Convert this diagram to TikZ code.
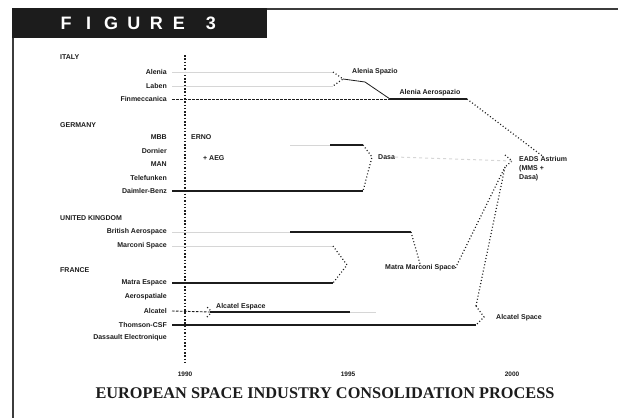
\documentclass[tikz,border=0pt]{standalone}
\usepackage{fontspec}
\setmainfont{Liberation Serif}
\newfontfamily\hdrfont{Liberation Sans}
\usetikzlibrary{positioning}
\definecolor{mydark}{RGB}{28,28,28}
\definecolor{myrule}{RGB}{60,60,60}
\definecolor{myfaint}{RGB}{214,214,214}
\tikzset{
  figletter/.style={font=\hdrfont\fontsize{18}{18}\selectfont\bfseries, text=white, inner sep=0pt},
  country/.style={anchor=west, font=\hdrfont\fontsize{7}{8}\selectfont\bfseries, text=mydark, inner sep=0pt},
  firm/.style={anchor=east, font=\hdrfont\fontsize{7}{8}\selectfont\bfseries, text=mydark, inner sep=0pt},
  note/.style={anchor=west, font=\hdrfont\fontsize{7}{9}\selectfont\bfseries, text=mydark, inner sep=0pt, align=left},
  year/.style={font=\hdrfont\fontsize{6.5}{7}\selectfont\bfseries, text=mydark, inner sep=0pt},
  caption/.style={font=\fontsize{16.3}{17}\selectfont\bfseries, text=mydark, inner sep=0pt},
  axis/.style={line width=1.1pt, color=mydark, dash pattern=on 1.5pt off 1.8pt},
  track/.style={line width=1.7pt, color=mydark},
  faint/.style={line width=1pt, color=myfaint},
  lead/.style={line width=0.9pt, color=mydark, dash pattern=on 2.5pt off 1.5pt},
  merge/.style={line width=1.2pt, color=mydark, dash pattern=on 1pt off 2.2pt},
  thin/.style={line width=0.8pt, color=mydark}
}

\begin{document}
\begin{tikzpicture}[x=1pt, y=-1pt]
  \useasboundingbox (0,0) rectangle (618,418);

  % frame and figure tab
  \fill[mydark] (12,8) rectangle (267,38);
  \foreach \ch [count=\i] in {F,I,G,U,R,E}
    \node[figletter] (fig\i) at (66+22.6*\i-22.6, 23.5) {\ch};
  \node[figletter] (fignum) at (211, 23.5) {3};
  \draw[myrule, line width=2pt] (267,8.5) -- (618,8.5);
  \draw[myrule, line width=2pt] (13,38) -- (13,418);

  % time axis
  \coordinate (axtop) at (185,55);
  \coordinate (axbot) at (185,365);
  \draw[axis] (axtop) -- (axbot);
  \node[year] (y90) at (185,374) {1990};
  \node[year] (y95) at (348,374) {1995};
  \node[year] (y00) at (512,374) {2000};

  % merged groups on the right
  \node[note] (astrium) at (519,169) {EADS Astrium\\(MMS +\\Dasa)};
  \coordinate (astrTop) at (505,155);
  \coordinate (astrTip) at (512,161);
  \coordinate (astrBot) at (505,167);
  \draw[merge] (astrTop) -- (astrTip) -- (astrBot);
  \node[note] (alcspace) at (496,318) {Alcatel Space};
  \coordinate (alcTop) at (476,306);
  \coordinate (alcTip) at (484,317);
  \coordinate (alcBot) at (476,325);
  \draw[merge] (alcTop) -- (alcTip) -- (alcBot);

  % Italy
  \node[country] (italy) at (60,57) {ITALY};
  \node[firm] (alenia) at (167,72) {Alenia};
  \node[firm] (laben) at (167,86) {Laben};
  \node[firm] (finmec) at (167,99) {Finmeccanica};
  \coordinate (spzA) at (333,72);
  \coordinate (spzB) at (333,86);
  \coordinate (spzTip) at (343,79);
  \coordinate (spzBend) at (365,82);
  \coordinate (aeroA) at (390,99);
  \coordinate (aeroB) at (467,99);
  \draw[faint] ([xshift=5pt]alenia.east) -- (spzA);
  \draw[faint] ([xshift=5pt]laben.east) -- (spzB);
  \draw[merge] (spzA) -- (spzTip) -- (spzB);
  \node[note, anchor=west] (spazio) at (352,72) {Alenia Spazio};
  \draw[thin] (spzTip) -- (spzBend) -- (aeroA);
  \draw[lead] ([xshift=5pt]finmec.east) -- (aeroA);
  \draw[track] (aeroA) -- (aeroB);
  \node[note, anchor=south] (aerospazio) at (430,96) {Alenia Aerospazio};
  \draw[merge] (aeroB) -- (astrium.north);

  % Germany
  \node[country] (germany) at (60,125) {GERMANY};
  \node[firm] (mbb) at (167,137) {MBB};
  \node[firm] (dornier) at (167,151) {Dornier};
  \node[firm] (man) at (167,164) {MAN};
  \node[firm] (telef) at (167,178) {Telefunken};
  \node[firm] (daimler) at (167,191) {Daimler-Benz};
  \node[note] (erno) at (191,137) {ERNO};
  \node[note] (aeg) at (203,158) {+ AEG};
  \coordinate (dasaA0) at (290,145);
  \coordinate (dasaA1) at (330,145);
  \coordinate (dasaA) at (363,145);
  \coordinate (dasaTip) at (372,157);
  \coordinate (dasaB) at (363,191);
  \draw[faint] (dasaA0) -- (dasaA1);
  \draw[track] (dasaA1) -- (dasaA);
  \draw[track] ([xshift=5pt]daimler.east) -- (dasaB);
  \draw[merge] (dasaA) -- (dasaTip) -- (dasaB);
  \node[note] (dasa) at (378,157) {Dasa};
  \draw[faint, dashed] (dasa.east) -- (astrTip);

  % United Kingdom
  \node[country] (uk) at (60,218) {UNITED KINGDOM};
  \node[firm] (bae) at (167,232) {British Aerospace};
  \node[firm] (marconi) at (167,246) {Marconi Space};
  \coordinate (baeA) at (290,232);
  \coordinate (baeB) at (411,232);
  \draw[faint] ([xshift=5pt]bae.east) -- (baeA);
  \draw[track] (baeA) -- (baeB);
  \coordinate (mmsA) at (333,246);
  \coordinate (mmsTip) at (347,265);
  \coordinate (mmsB) at (333,283);
  \draw[faint] ([xshift=5pt]marconi.east) -- (mmsA);

  % France
  \node[country] (france) at (60,270) {FRANCE};
  \node[firm] (matra) at (167,283) {Matra Espace};
  \node[firm] (aerosp) at (167,297) {Aerospatiale};
  \node[firm] (alcatel) at (167,311) {Alcatel};
  \node[firm] (thomson) at (167,325) {Thomson-CSF};
  \node[firm] (dassault) at (167,338) {Dassault Electronique};
  \draw[track] ([xshift=5pt]matra.east) -- (mmsB);
  \draw[merge] (mmsA) -- (mmsTip) -- (mmsB);
  \node[note] (mms) at (385,268) {Matra Marconi Space};
  \draw[merge] (baeB) -- (mms.north);
  \draw[merge] (mms.east) -- (astrBot);
  \draw[merge] (alcTop) -- (astrBot);
  \coordinate (espA) at (210,312);
  \coordinate (espB) at (350,312);
  \coordinate (espC) at (376,312);
  \draw[lead] ([xshift=5pt]alcatel.east) -- (espA);
  \draw[merge] ([xshift=-3pt,yshift=-5pt]espA) -- ([xshift=2pt]espA) -- ([xshift=-3pt,yshift=5pt]espA);
  \node[note, anchor=south west] (espace) at (216,310) {Alcatel Espace};
  \draw[track] (espA) -- (espB);
  \draw[faint] (espB) -- (espC);
  \draw[track] ([xshift=5pt]thomson.east) -- (alcBot);

  % caption
  \node[caption] (title) at (325,393) {EUROPEAN SPACE INDUSTRY CONSOLIDATION PROCESS};
\end{tikzpicture}
\end{document}
